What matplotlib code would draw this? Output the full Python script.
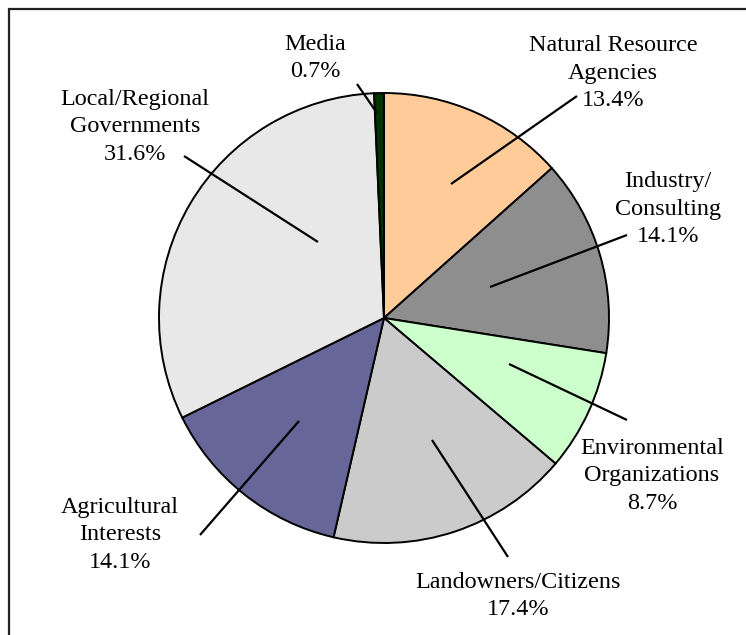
import matplotlib
matplotlib.use("Agg")
import matplotlib.pyplot as plt
from matplotlib.patches import Rectangle

# Stakeholder shares (percent), clockwise from 12 o'clock
categories = ["Natural Resource\nAgencies", "Industry/\nConsulting", "Environmental\nOrganizations",
              "Landowners/Citizens", "Agricultural\nInterests", "Local/Regional\nGovernments", "Media"]
shares = [13.4, 14.1, 8.7, 17.4, 14.1, 31.6, 0.7]
colors = ["#FFCC99", "#8E8E8E", "#CCFFCC", "#CBCBCB", "#666699", "#E8E8E8", "#003300"]

W, H = 746, 635
fig = plt.figure(figsize=(W / 100, H / 100), dpi=100)
ax = fig.add_axes([0, 0, 1, 1])

cx, cy, R = 384, H - 318, 225
ax.pie(shares, colors=colors, startangle=90, counterclock=False,
       center=(cx, cy), radius=R, frame=True,
       wedgeprops=dict(edgecolor="black", linewidth=1.4))
ax.set_xlim(0, W)
ax.set_ylim(0, H)
ax.set_aspect("equal")
ax.axis("off")

# Label placement (pixel layout: text centre, leader start, leader end)
layout = [
    ((613, 73), (577, 96), (451, 184)),
    ((668, 209), (627, 235), (490, 287)),
    ((652, 476), (627, 420), (509, 364)),
    ((518, 596), (508, 557), (432, 440)),
    ((120, 535), (200, 535), (299, 421)),
    ((135, 127), (184, 156), (318, 242)),
    ((315, 58), (357, 84), (377, 113)),
]

font = dict(family=["Liberation Serif", "DejaVu Serif"], fontsize=17.4)
for name, val, (txt, p0, p1) in zip(categories, shares, layout):
    ax.text(txt[0], H - txt[1], f"{name}\n{val:.1f}%", ha="center", va="center",
            linespacing=1.42, **font)
    ax.plot([p0[0], p1[0]], [H - p0[1], H - p1[1]], color="black", lw=1.6,
            solid_capstyle="butt")

# Chart frame
fig.patches.append(Rectangle((8.5 / W, -0.1), 1.2, 1.1 - 8.5 / H,
                             transform=fig.transFigure, fill=False,
                             edgecolor="#222222", linewidth=1.6))

fig.savefig("out.png", dpi=100, facecolor="white")
